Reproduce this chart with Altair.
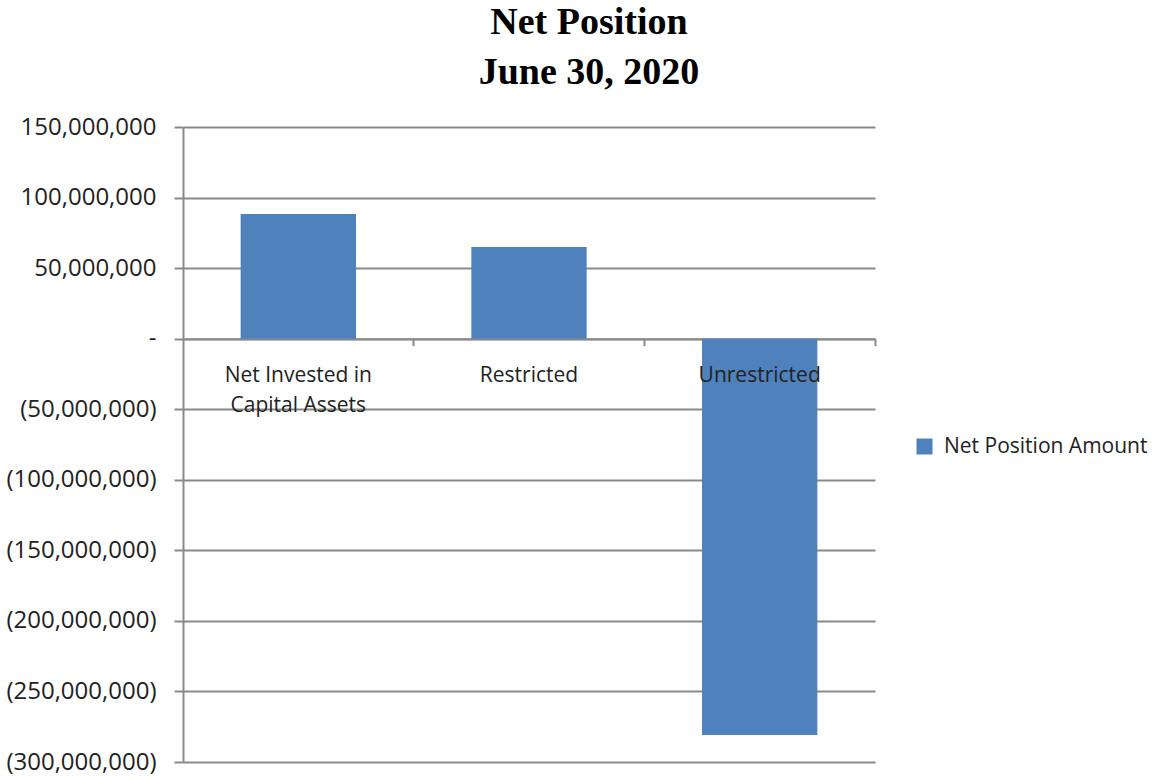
import altair as alt
import pandas as pd

categories = ["Net Invested in\nCapital Assets", "Restricted", "Unrestricted"]
amounts = [88_400_000, 64_900_000, -280_800_000]
series_name = "Net Position Amount"
y_ticks = [150_000_000, 100_000_000, 50_000_000, 0, -50_000_000, -100_000_000,
           -150_000_000, -200_000_000, -250_000_000, -300_000_000]

df = pd.DataFrame({"category": categories, "amount": amounts, "series": [series_name] * len(categories)})

FONT = "Open Sans"
TEXT = "#222222"
GRID = "#8a8a8a"
W, H = 692, 635

x_enc = alt.X("category:N", sort=categories,
              scale=alt.Scale(paddingInner=0.5, paddingOuter=0.25),
              axis=alt.Axis(title=None, labels=False, domain=True, domainColor=GRID, domainWidth=2,
                            ticks=True, tickColor=GRID, tickWidth=2, tickSize=7, bandPosition=1.5,
                            offset=-(H - H * 150 / 450),
                            grid=False))
y_enc = alt.Y("amount:Q",
              scale=alt.Scale(domain=[-300_000_000, 150_000_000], nice=False, zero=False),
              axis=alt.Axis(title=None, values=y_ticks,
                            labelExpr="datum.value == 0 ? '-\u00a0\u00a0\u00a0' : (datum.value < 0 ? '(' + format(-datum.value, ',') + ')' : format(datum.value, ',') + '\u200a')",
                            labelFont=FONT, labelFontSize=24, labelColor=TEXT, labelPadding=18,
                            domain=True, domainColor=GRID, domainWidth=2,
                            ticks=True, tickColor=GRID, tickWidth=2, tickSize=9,
                            grid=True, gridColor=GRID, gridWidth=2, gridOpacity=1))

bars = alt.Chart(df).mark_bar(color="#4f81bd").encode(
    x=x_enc,
    y=y_enc,
    color=alt.Color("series:N", scale=alt.Scale(range=["#4f81bd"]),
                    legend=alt.Legend(title=None, orient="none", legendX=731, legendY=309,
                                      symbolType="square", symbolSize=256, symbolStrokeWidth=0,
                                      labelFont=FONT, labelFontSize=21, labelColor=TEXT,
                                      labelOffset=9, labelLimit=400, padding=0)),
)

labels = alt.Chart(df).mark_text(font=FONT, fontSize=21, color=TEXT, baseline="top",
                                 align="center", dy=26, lineHeight=30, lineBreak="\n").encode(
    x=alt.X("category:N", sort=categories),
    y=alt.datum(0),
    text="category:N",
)

chart = alt.layer(bars, labels).properties(
    width=W, height=H,
    background="white",
    title=alt.TitleParams(["Net Position", "June 30, 2020"], font="Liberation Serif", fontSize=38,
                          fontWeight="bold", color="#000000", lineHeight=50, anchor="middle",
                          dx=60, offset=23),
    autosize=alt.AutoSizeParams(type="none"),
    padding={"left": 183, "top": 127, "right": 1174 - 183 - W, "bottom": 779 - 127 - H},
).configure_view(strokeWidth=0, stroke="transparent")

chart.save("out.html", embed_options={"renderer": "svg", "actions": False})
